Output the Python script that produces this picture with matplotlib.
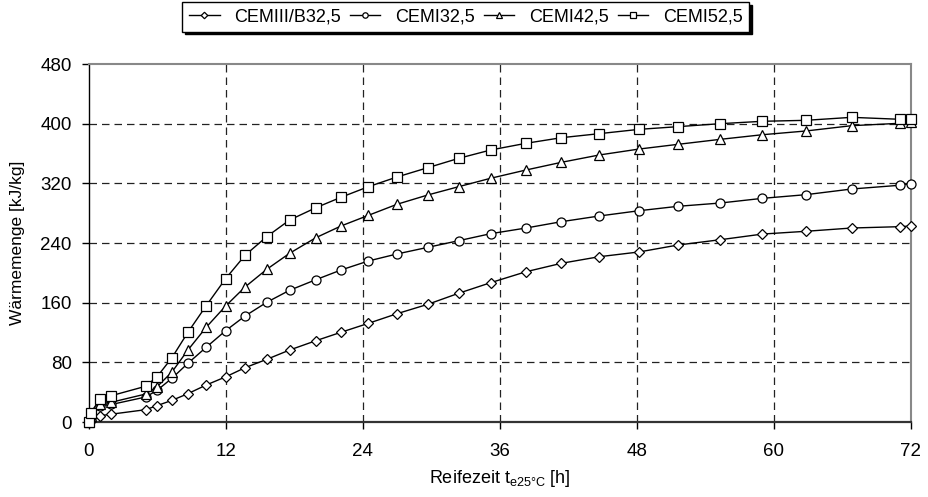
import matplotlib

matplotlib.use("Agg")
import matplotlib.pyplot as plt

# maturity time t_e25°C in hours (same sampling for all cements)
hours = [0, 0.2, 1.0, 2.0, 5.0, 6.0, 7.3, 8.7, 10.3, 12.0, 13.7, 15.6, 17.6,
         19.9, 22.1, 24.5, 27.0, 29.7, 32.4, 35.2, 38.3, 41.4, 44.7, 48.2,
         51.6, 55.3, 59.0, 62.8, 66.8, 71.0, 72.0]

# cumulative heat of hydration in kJ/kg
cem3b_325 = [0, 2, 8.4, 10.5, 16.5, 22, 29, 38, 49.6, 60.5, 72.8, 84.0, 96.5,
             109, 120.3, 132.3, 145.2, 157.8, 172.6, 186.8, 201.5, 212.8,
             221.6, 228, 237.3, 244.4, 252, 255.7, 260.1, 261.9, 262.8]
cem1_325 = [0, 5, 22, 23.5, 33.5, 42.5, 58.6, 78.7, 100.2, 122.4, 142.1, 160.5,
            176.6, 190.8, 203.8, 215.9, 225.3, 234.2, 243.1, 252.5, 260.1,
            268.6, 276.2, 283.3, 289.2, 293.6, 299.9, 304.8, 312.4, 317.4, 319.5]
cem1_425 = [0, 8, 24.5, 26.5, 37.5, 47.3, 67, 96.5, 127, 155.5, 181, 204.7,
            226.2, 247.1, 262.8, 277.1, 291.9, 304.4, 315.5, 326.8, 337.9,
            348.2, 358, 366, 372.3, 379, 385.2, 390.2, 397.3, 400.5, 402.3]
cem1_525 = [0, 12.5, 30.8, 35.3, 47.9, 60.7, 86.2, 120.3, 155.9, 192.2, 223.5,
            248.5, 270.8, 287.3, 301.3, 315.5, 328.5, 341, 353.5, 364.7, 373.7,
            381.2, 386.6, 392.4, 396, 400, 403.2, 404.5, 408.5, 405.9, 406.3]

labels = ["CEMIII/B32,5", "CEMI32,5", "CEMI42,5", "CEMI52,5"]
x_ticks = [0, 12, 24, 36, 48, 60, 72]
y_ticks = [0, 80, 160, 240, 320, 400, 480]

plt.rcParams.update({
    "font.family": ["Liberation Sans", "DejaVu Sans"],
    "mathtext.fontset": "custom",
    "mathtext.rm": "Liberation Sans",
    "mathtext.it": "Liberation Sans",
})

fig = plt.figure(figsize=(9.29, 4.97), dpi=100)
ax = fig.add_axes([0.0953, 0.1509, 0.8853, 0.7203])

series = [cem3b_325, cem1_325, cem1_425, cem1_525]
markers = [("D", 5.5), ("o", 6.5), ("^", 7), ("s", 6.5)]
for values, label, (marker, size) in zip(series, labels, markers):
    ax.plot(hours, values, color="black", lw=1.0, marker=marker, ms=size,
            mfc="white", mec="black", mew=0.9, label=label, clip_on=False,
            zorder=3)

ax.set_xlim(0, 72)
ax.set_ylim(0, 480)
ax.set_xticks(x_ticks)
ax.set_yticks(y_ticks)
ax.tick_params(direction="out", length=5, width=1, labelsize=13.5,
               colors="black")
ax.tick_params(axis="x", pad=10)
ax.tick_params(axis="y", pad=7)

# dashed grid, without the lines on the plot-area border
for xv in x_ticks[1:-1]:
    ax.axvline(xv, color="#222222", lw=0.9, dashes=(6, 4), zorder=1)
for yv in y_ticks[1:-1]:
    ax.axhline(yv, color="#222222", lw=0.9, dashes=(6, 4), zorder=1)

ax.spines["left"].set_color("black")
ax.spines["left"].set_linewidth(1.0)
ax.spines["bottom"].set_color("#333333")
ax.spines["bottom"].set_linewidth(1.6)
for side in ("top", "right"):
    ax.spines[side].set_color("#888888")
    ax.spines[side].set_linewidth(1.5)

ax.set_xlabel(r"Reifezeit t$_{\mathrm{e25°C}}$ [h]", fontsize=13, labelpad=6)
ax.set_ylabel("Wärmemenge [kJ/kg]", fontsize=12.5, labelpad=11)

leg = fig.legend(loc="upper right", bbox_to_anchor=(0.806, 0.996), ncol=4,
                 fontsize=13, frameon=True, fancybox=False,
                 shadow={"color": "black", "alpha": 1.0},
                 handlelength=1.7, handletextpad=0.8, columnspacing=0.5,
                 markerscale=0.6, borderpad=0.35, borderaxespad=0.0)
leg.get_frame().set_edgecolor("black")
leg.get_frame().set_linewidth(1.0)

fig.savefig("out.png", dpi=100)
